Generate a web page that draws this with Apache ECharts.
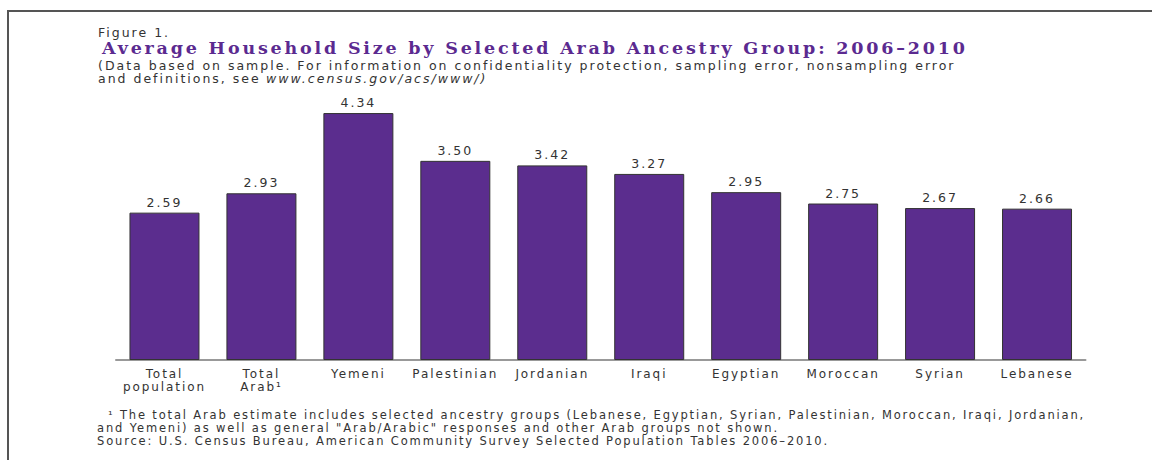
<!DOCTYPE html>
<html>
<head>
<meta charset="utf-8">
<script src="https://cdn.jsdelivr.net/npm/echarts@6/dist/echarts.min.js"></script>
<style>
    html, body { margin: 0; padding: 0; background: #fff; }
    #wrap { position: relative; width: 1152px; height: 460px; overflow: hidden; }
    #chartBox { position: absolute; left: 0; top: 0; width: 1152px; height: 460px; }
    /* the census type is set wide, so open the letters up a bit */
    #chartBox text { letter-spacing: 0.16em; }
    #frame { position: absolute; left: 7px; top: 10px; width: 1200px; height: 500px;
             border-top: 2px solid #555; border-left: 2px solid #555; pointer-events: none; }
</style>
</head>
<body>
<div id="wrap">
    <div id="chartBox"></div>
    <div id="frame"></div>
</div>
<script>
// ancestry groups and average household size
var groups = ['Total\npopulation', 'Total\nArab\u00b9', 'Yemeni', 'Palestinian', 'Jordanian',
              'Iraqi', 'Egyptian', 'Moroccan', 'Syrian', 'Lebanese'];
var hhSize = [2.59, 2.93, 4.34, 3.50, 3.42, 3.27, 2.95, 2.75, 2.67, 2.66];

var sansFont = '"DejaVu Sans", sans-serif';
var textColor = '#333';

function txt(text, left, top, size, extra) {
    var style = { fontSize: size, fontWeight: 'normal', color: textColor, fontFamily: sansFont };
    for (var k in extra) { style[k] = extra[k]; }
    return { text: text, left: left, top: top, padding: 0, textStyle: style };
}

function loadChart() {
    var myChart = echarts.init(document.getElementById('chartBox'), null, { renderer: 'svg' });

    var option = {
        backgroundColor: '#fff',
        animation: false,
        title: [
            txt('Figure 1.', 98, 26, 12.5),
            txt('Average Household Size by Selected Arab Ancestry Group: 2006\u20132010', 102, 39, 17.5,
                { fontWeight: 'bold', color: '#5b2a90', fontFamily: '"DejaVu Serif", serif' }),
            txt('(Data based on sample. For information on confidentiality protection, sampling error, nonsampling error',
                98, 59, 12.5),
            txt('and definitions, see', 98, 72, 12.5),
            txt('www.census.gov/acs/www/)', 266, 72, 12.5, { fontStyle: 'italic' }),
            txt('  \u00b9 The total Arab estimate includes selected ancestry groups (Lebanese, Egyptian, Syrian, Palestinian, Moroccan, Iraqi, Jordanian,\nand Yemeni) as well as general "Arab/Arabic" responses and other Arab groups not shown.',
                97, 409, 11.5, { lineHeight: 12.5 }),
            txt('Source: U.S. Census Bureau, American Community Survey Selected Population Tables 2006\u20132010.',
                97, 435, 11.5)
        ],
        grid: {
            left: 116,
            right: 66.5,
            top: 75.5,
            bottom: 100
        },
        xAxis: {
            type: 'category',
            data: groups,
            axisTick: { show: false },
            axisLine: { lineStyle: { color: '#999', width: 2 } },
            axisLabel: {
                interval: 0,
                margin: 7,
                color: textColor,
                fontSize: 12,
                lineHeight: 13,
                fontFamily: sansFont
            }
        },
        yAxis: {
            type: 'value',
            min: 0,
            max: 5,
            show: false
        },
        series: [
            {
                type: 'bar',
                data: hhSize,
                barWidth: 70,
                itemStyle: {
                    color: '#5b2d8e',
                    borderColor: '#333',
                    borderWidth: 1
                },
                label: {
                    show: true,
                    position: 'top',
                    distance: 4,
                    color: textColor,
                    fontSize: 12.5,
                    fontFamily: sansFont,
                    formatter: function (p) { return p.value.toFixed(2); }
                }
            }
        ]
    };

    myChart.setOption(option);
}

loadChart();
</script>
</body>
</html>
